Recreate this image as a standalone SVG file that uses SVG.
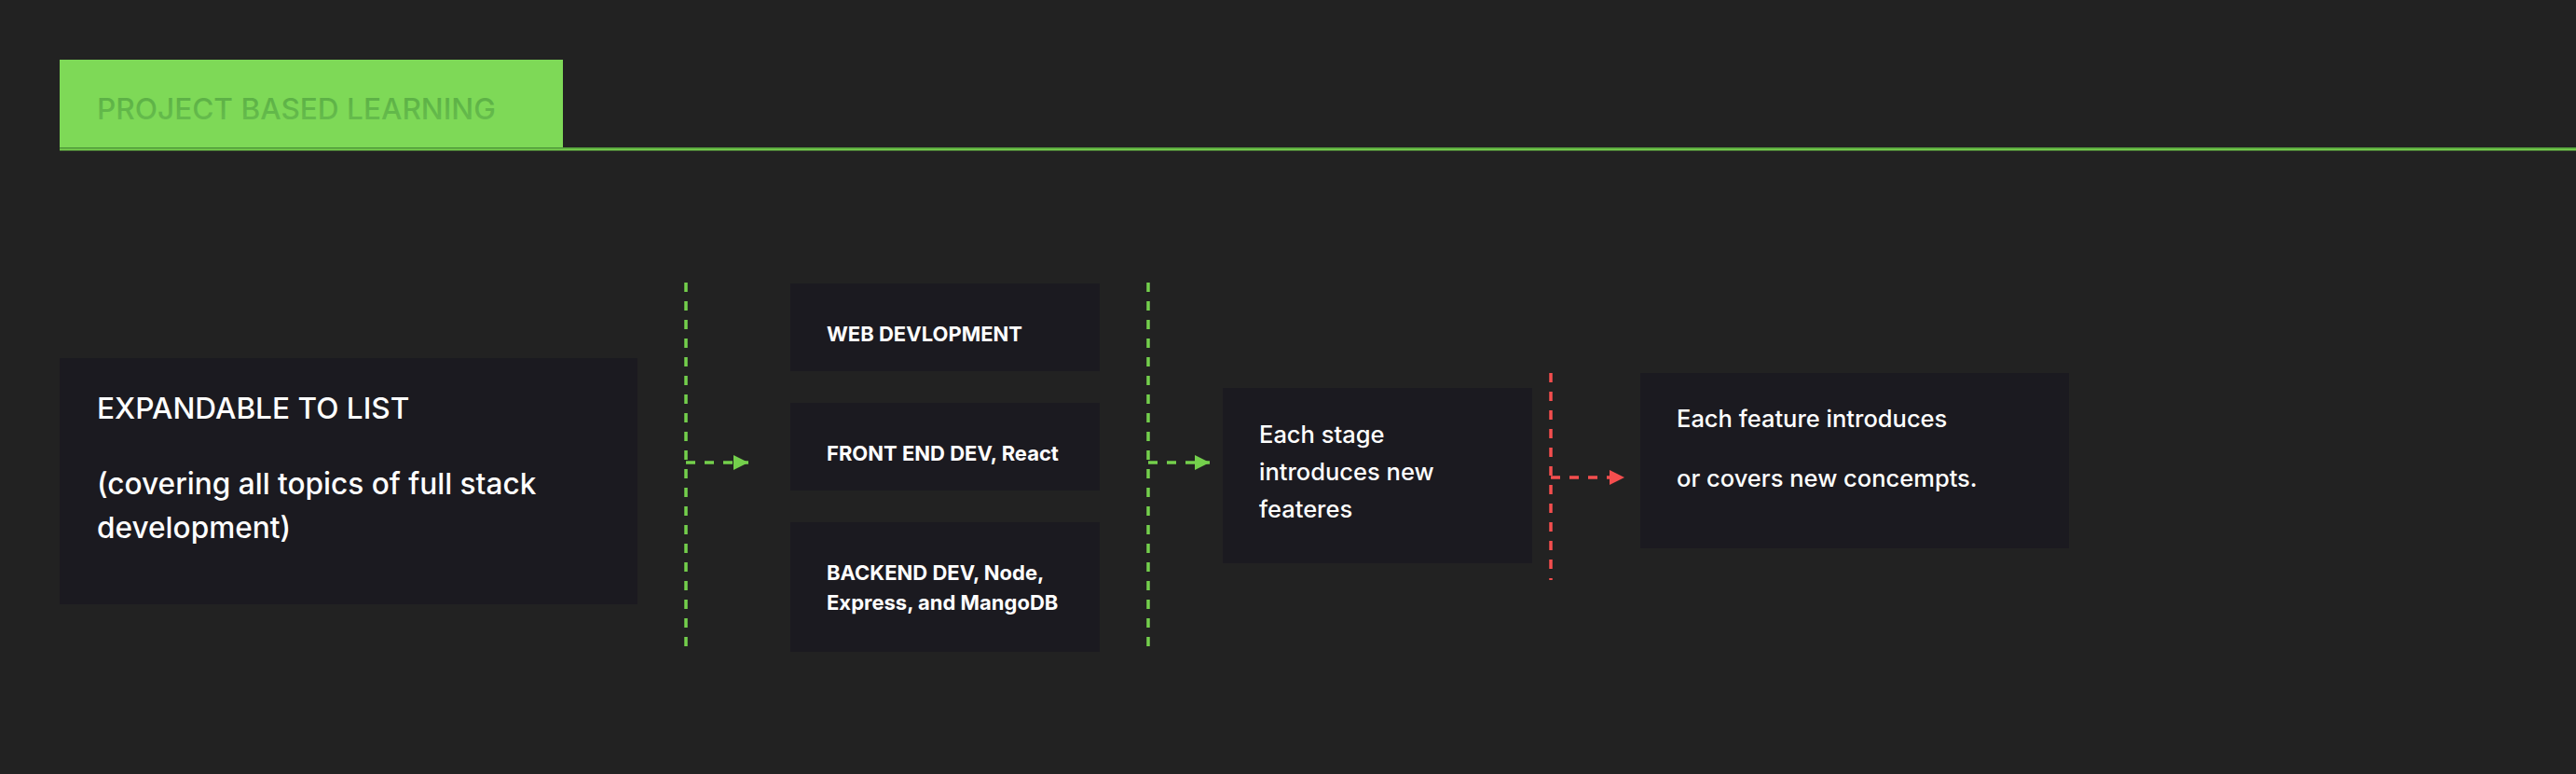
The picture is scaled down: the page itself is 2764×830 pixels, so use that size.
<svg xmlns="http://www.w3.org/2000/svg" width="2764" height="830" viewBox="0 0 2764 830">
  <defs>
    <style>
      .node { fill: #1b1a20; }
      .txt { font-family: Inter, "Noto Sans", "Liberation Sans", sans-serif; fill: #ffffff; }
      .big { font-size: 31.6px; font-weight: 500; }
      .mid { font-size: 22px; font-weight: 700; }
      .std { font-size: 25.5px; font-weight: 500; }
      .gdash { stroke: #74d04c; stroke-width: 3.5; stroke-dasharray: 10 10; fill: none; }
      .rdash { stroke: #f54e4e; stroke-width: 3.5; stroke-dasharray: 10 10; fill: none; }
    </style>
    <linearGradient id="hdrText" x1="0" y1="0" x2="0" y2="1">
      <stop offset="0" stop-color="#5aad44"/>
      <stop offset="1" stop-color="#68bf4e"/>
    </linearGradient>
    <marker id="arrG" viewBox="0 0 16 16" refX="16" refY="8" markerWidth="16" markerHeight="16" markerUnits="userSpaceOnUse" orient="auto">
      <path d="M0,0 L16,8 L0,16 Z" fill="#74d04c"/>
    </marker>
    <marker id="arrR" viewBox="0 0 16 16" refX="16" refY="8" markerWidth="16" markerHeight="16" markerUnits="userSpaceOnUse" orient="auto">
      <path d="M0,0 L16,8 L0,16 Z" fill="#f54e4e"/>
    </marker>
  </defs>
  <rect x="0" y="0" width="2764" height="830" fill="#222222"/>

  <g id="header">
    <rect x="64" y="64" width="540" height="95" fill="#7ed957"/>
    <rect x="64" y="158" width="2700" height="1.2" fill="#4f9a3a"/>
    <rect x="64" y="159.2" width="2700" height="2.3" fill="#74d04c"/>
    <text x="104" y="127.5" font-family="Inter, 'Noto Sans', 'Liberation Sans', sans-serif" font-size="31.6" font-weight="500" fill="url(#hdrText)">PROJECT BASED LEARNING</text>
  </g>

  <g id="node-expandable">
    <rect class="node" x="64" y="384" width="620" height="264"/>
    <text class="txt big" x="104" y="449">EXPANDABLE TO LIST</text>
    <text class="txt big" x="104" y="530">(covering all topics of full stack</text>
    <text class="txt big" x="104" y="577">development)</text>
  </g>

  <g id="node-web">
    <rect class="node" x="848" y="304" width="332" height="94"/>
    <text class="txt mid" x="887" y="366">WEB DEVLOPMENT</text>
  </g>

  <g id="node-frontend">
    <rect class="node" x="848" y="432" width="332" height="94"/>
    <text class="txt mid" x="887" y="493.5">FRONT END DEV, React</text>
  </g>

  <g id="node-backend">
    <rect class="node" x="848" y="560" width="332" height="139"/>
    <text class="txt mid" x="887" y="621.5">BACKEND DEV, Node,</text>
    <text class="txt mid" x="887" y="653.5">Express, and MangoDB</text>
  </g>

  <g id="node-stage">
    <rect class="node" x="1312" y="416" width="332" height="188"/>
    <text class="txt std" x="1351" y="475">Each stage</text>
    <text class="txt std" x="1351" y="515">introduces new</text>
    <text class="txt std" x="1351" y="555">feateres</text>
  </g>

  <g id="node-feature">
    <rect class="node" x="1760" y="400" width="460" height="188"/>
    <text class="txt std" x="1799" y="457.5">Each feature introduces</text>
    <text class="txt std" x="1799" y="521.5">or covers new concempts.</text>
  </g>

  <g id="connectors">
    <line class="gdash" x1="736" y1="303" x2="736" y2="696"/>
    <line class="gdash" x1="736" y1="496" x2="803" y2="496" marker-end="url(#arrG)"/>
    <line class="gdash" x1="1232" y1="303" x2="1232" y2="696"/>
    <line class="gdash" x1="1232" y1="496" x2="1298" y2="496" marker-end="url(#arrG)"/>
    <line class="rdash" x1="1664" y1="400" x2="1664" y2="622"/>
    <line class="rdash" x1="1664" y1="512" x2="1743" y2="512" marker-end="url(#arrR)"/>
  </g>
</svg>
